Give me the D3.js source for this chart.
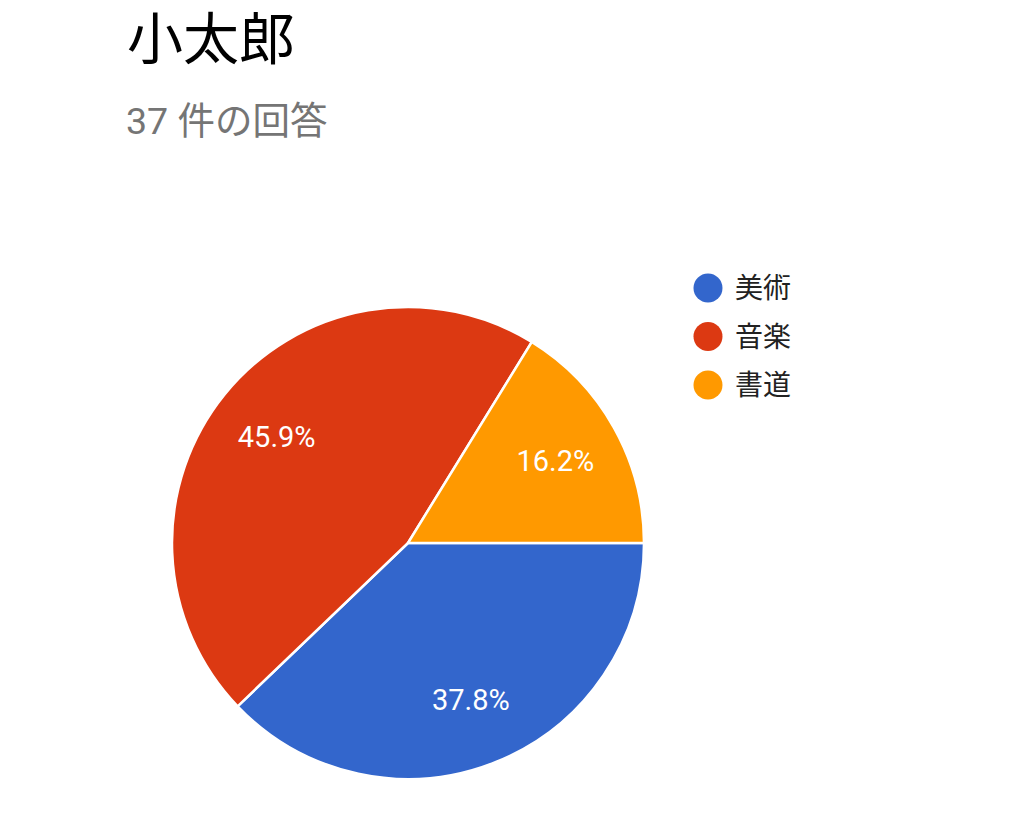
<!DOCTYPE html>
<html>
<head>
<meta charset="utf-8">
<script src="https://cdnjs.cloudflare.com/ajax/libs/d3/7.8.5/d3.min.js"></script>
<style>
  body { margin: 0; background: #fff; }
  text { font-family: Roboto, "Noto Sans CJK JP", sans-serif; }
</style>
</head>
<body>
<div id="chart"></div>
<script>
(function() {
  var title = '小太郎';
  var subtitle = '37 件の回答';
  var categories = ['美術', '音楽', '書道'];
  var counts = [14, 17, 6];
  var colours = ['#3366cc', '#dc3912', '#ff9900'];

  var width = 1012;
  var height = 815;
  var cx = 408;
  var cy = 543;
  var radius = 236;

  var svg = d3.select('#chart')
            .append('svg')
            .attr('width', width)
            .attr('height', height);

  svg.append('text')
    .attr('x', 127)
    .attr('y', 59)
    .attr('font-size', 56)
    .attr('fill', '#000')
    .text(title);

  svg.append('text')
    .attr('x', 126)
    .attr('y', 134)
    .attr('font-size', 37.5)
    .attr('fill', '#757575')
    .text(subtitle);

  var total = d3.sum(counts);
  var data = categories.map(function(c, i) {
    return { name: c, value: counts[i], colour: colours[i] };
  });

  // google starts at 3 o'clock and goes clockwise
  var pie = d3.pie()
    .sort(null)
    .value(function(d) { return d.value; })
    .startAngle(Math.PI / 2)
    .endAngle(Math.PI / 2 + 2 * Math.PI);

  var arc = d3.arc().innerRadius(0).outerRadius(radius);
  var labelArc = d3.arc().innerRadius(radius * 0.715).outerRadius(radius * 0.715);

  var g = svg.append('g')
    .attr('transform', 'translate(' + cx + ',' + cy + ')');

  var slices = pie(data);

  g.selectAll('path')
    .data(slices)
    .enter()
    .append('path')
    .attr('d', arc)
    .attr('fill', function(d) { return d.data.colour; })
    .attr('stroke', '#fff')
    .attr('stroke-width', 2.5);

  g.selectAll('text')
    .data(slices)
    .enter()
    .append('text')
    .attr('transform', function(d) {
      return 'translate(' + labelArc.centroid(d) + ')';
    })
    .attr('text-anchor', 'middle')
    .attr('dy', '0.36em')
    .attr('font-size', 29)
    .attr('fill', '#fff')
    .text(function(d) {
      return (d.data.value / total * 100).toFixed(1) + '%';
    });

  var legend = svg.append('g')
    .attr('transform', 'translate(708,288)');

  var rows = legend.selectAll('g')
    .data(data)
    .enter()
    .append('g')
    .attr('transform', function(d, i) {
      return 'translate(0,' + (i * 48.5) + ')';
    });

  rows.append('circle')
    .attr('r', 14.5)
    .attr('fill', function(d) { return d.colour; });

  rows.append('text')
    .attr('x', 27)
    .attr('dy', '0.36em')
    .attr('font-size', 28)
    .attr('fill', '#222')
    .text(function(d) { return d.name; });
}());
</script>
</body>
</html>
